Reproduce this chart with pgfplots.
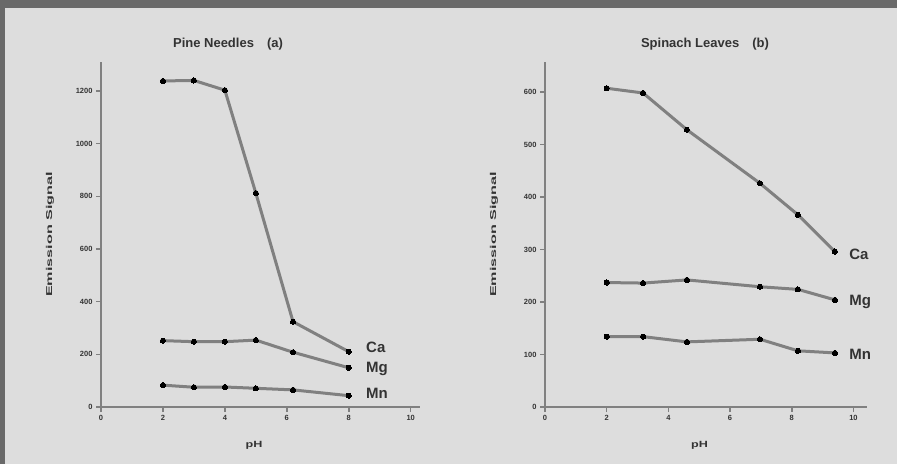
\documentclass[border=0pt]{standalone}
\usepackage{fontspec}
\setmainfont{Liberation Sans}
\usepackage{pgfplots}
\pgfplotsset{compat=1.18}
\definecolor{bg}{RGB}{221,221,221}
\definecolor{ln}{RGB}{128,128,128}
\definecolor{frame}{RGB}{105,105,105}

\pgfplotsset{panel/.style={
    scale only axis,
    axis lines=left,
    axis line style={ln, line width=2.5pt, -},
    xmin=0, ymin=0,
    xtick={0,2,...,10},
    tick align=outside,
    major tick length=5pt,
    tick style={ln, line width=1.5pt},
    ticklabel style={font=\fontsize{7.5}{8}\selectfont\bfseries, text=black!80},
    /pgf/number format/assume math mode=true,
    /pgf/number format/1000 sep={},
    xlabel={\scalebox{1.4}[1]{pH}}, ylabel={\scalebox{1.9}[1]{Emission Signal}},
    every axis x label/.style={at={(axis description cs:0.48,0)}, anchor=center, yshift=-38pt,
        font=\fontsize{9}{10}\selectfont\bfseries, text=black!80},
    every axis y label/.style={at={(axis description cs:0,0.5)}, rotate=90, anchor=center, yshift=51pt,
        font=\fontsize{8.5}{9}\selectfont\bfseries, text=black!80},
    clip=false,
}}
\tikzset{ser/.style={ln, line width=3pt, mark=*, mark size=2.6pt,
        mark options={black, fill=black, line width=0pt}},
   elem/.style={anchor=west, font=\fontsize{15}{16}\selectfont\bfseries, text=black!80}}

\begin{document}
\begin{tikzpicture}
\useasboundingbox (0pt,0pt) rectangle (897pt,464pt);
\fill[bg] (0pt,0pt) rectangle (897pt,464pt);
\fill[frame] (0pt,456pt) rectangle (897pt,464pt);
\fill[frame] (0pt,0pt) rectangle (5pt,464pt);

% Pine needles
\begin{axis}[panel, at={(101pt,57pt)}, anchor=origin,
    width=319pt, height=345pt, xmax=10.3, ymax=1310,
    ytick={0,200,...,1200}]
\addplot[ser] coordinates {(2,1238) (3,1240) (4,1203) (5,812) (6.2,324) (8,210)};
\addplot[ser] coordinates {(2,252) (3,248) (4,248) (5,254) (6.2,208) (8,149)};
\addplot[ser] coordinates {(2,83) (3,75) (4,76) (5,71) (6.2,65) (8,43)};
\node[elem] at (axis cs:8.45,225) {Ca};
\node[elem] at (axis cs:8.45,145) {Mg};
\node[elem] at (axis cs:8.45,50) {Mn};
\end{axis}

% Spinach leaves
\begin{axis}[panel, at={(545pt,57pt)}, anchor=origin,
    width=322pt, height=345pt, xmax=10.44, ymax=657,
    ytick={0,100,...,600}]
\addplot[ser] coordinates {(2,607) (3.18,598) (4.6,528) (6.97,426) (8.2,366) (9.4,296)};
\addplot[ser] coordinates {(2,237) (3.18,236) (4.6,242) (6.97,229) (8.2,224) (9.4,204)};
\addplot[ser] coordinates {(2,134) (3.18,134) (4.6,124) (6.97,129) (8.2,107) (9.4,103)};
\node[elem] at (axis cs:9.75,290) {Ca};
\node[elem] at (axis cs:9.75,200) {Mg};
\node[elem] at (axis cs:9.75,100) {Mn};
\end{axis}

\node[font=\fontsize{13}{14}\selectfont\bfseries, text=black!80] at (228pt,420pt) {Pine Needles\quad(a)};
\node[font=\fontsize{13}{14}\selectfont\bfseries, text=black!80] at (705pt,420pt) {Spinach Leaves\quad(b)};
\end{tikzpicture}
\end{document}
